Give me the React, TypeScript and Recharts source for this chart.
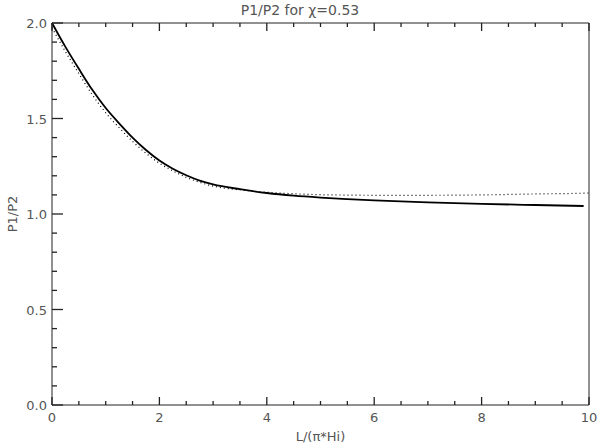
import React from "react";
import { LineChart, Line, XAxis, YAxis } from "recharts";

// sampled L/(pi*Hi) positions
const xs = [0, 0.25, 0.5, 0.75, 1, 1.25, 1.5, 1.75, 2, 2.25, 2.5, 2.75, 3, 3.5, 4, 4.5, 5, 5.5, 6, 7, 8, 9, 9.9, 10];

// solid curve (stops just short of 10)
const solid = [2.0, 1.875, 1.76, 1.65, 1.555, 1.475, 1.4, 1.335, 1.28, 1.237, 1.203, 1.175, 1.155, 1.13, 1.11, 1.096, 1.086, 1.078, 1.071, 1.061, 1.053, 1.047, 1.042, null];

// dotted curve
const dotted = [1.975, 1.85, 1.735, 1.625, 1.53, 1.452, 1.38, 1.318, 1.266, 1.226, 1.192, 1.166, 1.146, 1.126, 1.114, 1.106, 1.101, 1.099, 1.098, 1.098, 1.1, 1.105, 1.109, 1.11];

const xTicks = [0, 0.5, 1, 1.5, 2, 2.5, 3, 3.5, 4, 4.5, 5, 5.5, 6, 6.5, 7, 7.5, 8, 8.5, 9, 9.5, 10];
const yTicks = [0, 0.1, 0.2, 0.3, 0.4, 0.5, 0.6, 0.7, 0.8, 0.9, 1.0, 1.1, 1.2, 1.3, 1.4, 1.5, 1.6, 1.7, 1.8, 1.9, 2.0];

const data = xs.map((x, i) => ({ x, solid: solid[i], dotted: dotted[i] }));

const FONT = "'DejaVu Sans', sans-serif";
const TXT = "#555";
const AX = "#222";

const isMajorX = (v: number) => Math.abs(v % 2) < 1e-6;
const isMajorY = (v: number) => Math.abs(Math.round(v * 10) % 5) === 0;

// ticks point into the plot, like the IDL original
function BottomTick(props: any) {
  const { x, y, payload } = props;
  const major = isMajorX(payload.value);
  return (
    <g>
      <line x1={x} x2={x} y1={y} y2={y - (major ? 8 : 4)} stroke={AX} strokeWidth={1.3} />
      {major && (
        <text x={x} y={y + 17} textAnchor="middle" fontSize={13} fill={TXT} fontFamily={FONT}>
          {payload.value}
        </text>
      )}
    </g>
  );
}

function TopTick(props: any) {
  const { x, y, payload } = props;
  const major = isMajorX(payload.value);
  return (
    <g>
      <line x1={x} x2={x} y1={y} y2={y + (major ? 8 : 4)} stroke={AX} strokeWidth={1.3} />
    </g>
  );
}

function LeftTick(props: any) {
  const { x, y, payload } = props;
  const major = isMajorY(payload.value);
  return (
    <g>
      <line x1={x} x2={x + (major ? 11 : 5)} y1={y} y2={y} stroke={AX} strokeWidth={1.3} />
      {major && (
        <text x={x - 5} y={y + 5} textAnchor="end" fontSize={13} fill={TXT} fontFamily={FONT}>
          {payload.value.toFixed(1)}
        </text>
      )}
    </g>
  );
}

function RightTick(props: any) {
  const { x, y, payload } = props;
  const major = isMajorY(payload.value);
  return (
    <g>
      <line x1={x} x2={x - (major ? 11 : 5)} y1={y} y2={y} stroke={AX} strokeWidth={1.3} />
    </g>
  );
}

export default function App() {
  return (
    <div style={{ position: "absolute", left: 0, top: 0, width: 600, height: 447, background: "#fff" }}>
      <div
        style={{
          position: "absolute",
          left: 0,
          top: 1,
          width: 600,
          textAlign: "center",
          fontFamily: FONT,
          fontSize: 14,
          color: TXT,
          lineHeight: "18px",
        }}
      >
        P1/P2 for χ=0.53
      </div>
      <LineChart width={600} height={447} data={data} margin={{ top: 0, right: 10, bottom: 0, left: 0 }}>
        <XAxis
          xAxisId="bottom"
          dataKey="x"
          type="number"
          domain={[0, 10]}
          ticks={xTicks}
          interval={0}
          height={42}
          tickLine={false}
          tickSize={0}
          tickMargin={0}
          tick={(p: any) => <BottomTick {...p} />}
          axisLine={{ stroke: AX }}
          label={{ value: "L/(π*Hi)", position: "center", dy: 10, fontSize: 13, fill: TXT, fontFamily: FONT }}
        />
        <XAxis
          xAxisId="top"
          orientation="top"
          dataKey="x"
          type="number"
          domain={[0, 10]}
          ticks={xTicks}
          interval={0}
          height={23}
          tickLine={false}
          tickSize={0}
          tickMargin={0}
          tick={(p: any) => <TopTick {...p} />}
          axisLine={{ stroke: AX }}
        />
        <YAxis
          yAxisId="left"
          type="number"
          domain={[0, 2]}
          ticks={yTicks}
          interval={0}
          width={52}
          tickLine={false}
          tickSize={0}
          tickMargin={0}
          tick={(p: any) => <LeftTick {...p} />}
          axisLine={{ stroke: AX }}
          label={{ value: "P1/P2", angle: -90, position: "center", dx: -14, fontSize: 13, fill: TXT, fontFamily: FONT }}
        />
        <YAxis
          yAxisId="right"
          orientation="right"
          type="number"
          domain={[0, 2]}
          ticks={yTicks}
          interval={0}
          width={1}
          tickLine={false}
          tickSize={0}
          tickMargin={0}
          tick={(p: any) => <RightTick {...p} />}
          axisLine={{ stroke: AX }}
        />
        <Line
          xAxisId="bottom"
          yAxisId="left"
          type="monotone"
          dataKey="solid"
          stroke="#000"
          strokeWidth={1.8}
          dot={false}
          isAnimationActive={false}
        />
        <Line
          xAxisId="bottom"
          yAxisId="left"
          type="monotone"
          dataKey="dotted"
          stroke="#000"
          strokeWidth={1.2}
          strokeDasharray="1 3"
          dot={false}
          isAnimationActive={false}
        />
      </LineChart>
    </div>
  );
}
